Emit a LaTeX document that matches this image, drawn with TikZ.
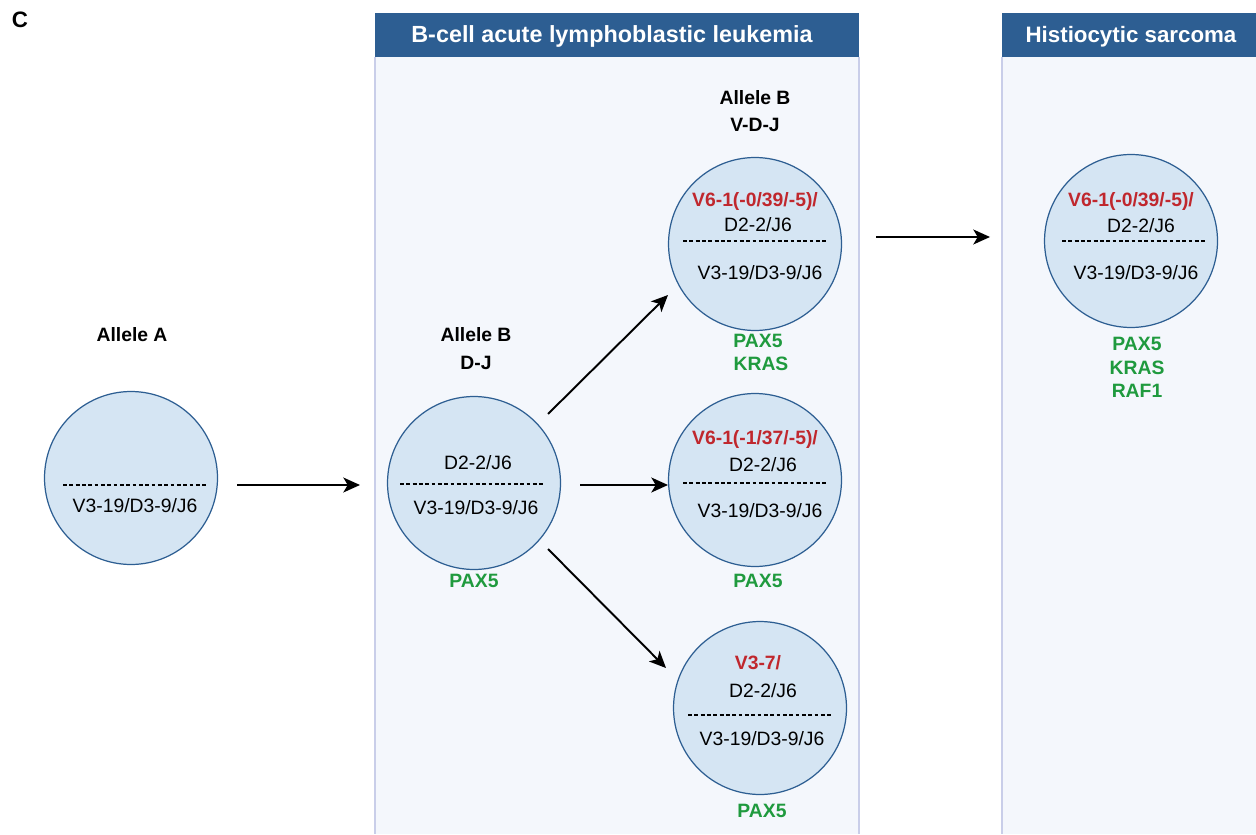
\documentclass[tikz,border=0pt]{standalone}
\usepackage{fontspec}
\setmainfont{Liberation Sans}
\usetikzlibrary{arrows.meta}
\definecolor{hdrblue}{HTML}{2D5E92}
\definecolor{panelbg}{HTML}{F4F7FC}
\definecolor{panelline}{HTML}{C9CEE9}
\definecolor{cellfill}{HTML}{D5E5F3}
\definecolor{vred}{HTML}{C0272D}
\definecolor{ggreen}{HTML}{1F9A3E}
\begin{document}
\begin{tikzpicture}[x=0.02cm,y=-0.02cm,
    every node/.style={font=\fontsize{11}{13}\selectfont,inner sep=0pt},
    txt/.style={anchor=base},
    cell/.style={circle,draw=hdrblue,fill=cellfill,line width=0.7pt,minimum size=3.46cm},
    hdr/.style={anchor=base,text=white,font=\fontsize{13.3}{15}\selectfont\bfseries},
    lbl/.style={anchor=base,font=\fontsize{11}{13}\selectfont\bfseries},
    vgene/.style={anchor=base,text=vred,font=\fontsize{11}{13}\selectfont\bfseries},
    gene/.style={anchor=base,text=ggreen,font=\fontsize{11}{13}\selectfont\bfseries},
    sep/.style={dash pattern=on 2.2pt off 1.4pt,line width=0.6pt},
    arr/.style={-{Stealth[length=9.5pt,width=8.5pt,inset=2.5pt]},line width=1.1pt}]
    \useasboundingbox (0,0) rectangle (1256,834);

    % panels
    \fill[panelbg] (375,57) rectangle (859,834);
    \draw[panelline,line width=1pt] (375,57) -- (375,834) (859,57) -- (859,834);
    \fill[panelbg] (1002,57) rectangle (1256,834);
    \draw[panelline,line width=1pt] (1002,57) -- (1002,834);
    \fill[hdrblue] (375,13) rectangle (859,57);
    \fill[hdrblue] (1002,13) rectangle (1256,57);
    \node[hdr] (h1) at (612,43) {B-cell acute lymphoblastic leukemia};
    \node[hdr,font=\fontsize{12.7}{15}\selectfont\bfseries] (h2) at (1131,43) {Histiocytic sarcoma};
    \node[lbl,font=\fontsize{12.7}{15}\selectfont\bfseries] (lc) at (20,28) {C};

    % cells
    \node[cell] (a) at (131,478) {};
    \node[cell] (dj) at (474,483) {};
    \node[cell] (vdj1) at (755,244) {};
    \node[cell] (vdj2) at (755,480) {};
    \node[cell] (vdj3) at (760,708) {};
    \node[cell] (hs) at (1131,241) {};

    % allele A
    \node[lbl] (la) at (132,341) {Allele A};
    \draw[sep] (63,485) -- (207,485);
    \node[txt] (a1) at (135,512) {V3-19/D3-9/J6};

    % allele B, D-J
    \node[lbl] (lb1) at (476,341) {Allele B};
    \node[lbl] (lb2) at (476,369) {D-J};
    \node[txt] (dj1) at (478,469) {D2-2/J6};
    \draw[sep] (400,484) -- (543,484);
    \node[txt] (dj2) at (476,514) {V3-19/D3-9/J6};
    \node[gene] (dj3) at (474,587) {PAX5};

    % allele B, V-D-J
    \node[lbl] (lv1) at (755,105) {Allele B};
    \node[lbl] (lv2) at (755,132) {V-D-J};

    \node[vgene] (t1) at (755,207) {V6-1(-0/39/-5)/};
    \node[txt] (t2) at (758,232) {D2-2/J6};
    \draw[sep] (683,241) -- (827,241);
    \node[txt] (t3) at (760,279) {V3-19/D3-9/J6};
    \node[gene] (t4) at (758,347) {PAX5};
    \node[gene] (t5) at (761,370) {KRAS};

    \node[vgene] (m1) at (755,444) {V6-1(-1/37/-5)/};
    \node[txt] (m2) at (763,471) {D2-2/J6};
    \draw[sep] (683,483) -- (828,483);
    \node[txt] (m3) at (760,517) {V3-19/D3-9/J6};
    \node[gene] (m4) at (758,587) {PAX5};

    \node[vgene] (b1) at (758,669) {V3-7/};
    \node[txt] (b2) at (763,697) {D2-2/J6};
    \draw[sep] (688,715) -- (831,715);
    \node[txt] (b3) at (762,745) {V3-19/D3-9/J6};
    \node[gene] (b4) at (762,817) {PAX5};

    % histiocytic sarcoma
    \node[vgene] (s1) at (1131,207) {V6-1(-0/39/-5)/};
    \node[txt] (s2) at (1141,233) {D2-2/J6};
    \draw[sep] (1062,241) -- (1206,241);
    \node[txt] (s3) at (1136,279) {V3-19/D3-9/J6};
    \node[gene] (s4) at (1137,350) {PAX5};
    \node[gene] (s5) at (1137,374) {KRAS};
    \node[gene] (s6) at (1137,397) {RAF1};

    % arrows
    \draw[arr] ([shift={(106,7)}]a.center) -- ([shift={(-114,2)}]dj.center);
    \draw[arr] ([shift={(74,-69)}]dj.center) -- ([shift={(-87,51)}]vdj1.center);
    \draw[arr] ([shift={(106,2)}]dj.center) -- ([shift={(-87,5)}]vdj2.center);
    \draw[arr] ([shift={(74,66)}]dj.center) -- ([shift={(-94,-40)}]vdj3.center);
    \draw[arr] ([shift={(121,-7)}]vdj1.center) -- ([shift={(-141,-4)}]hs.center);
\end{tikzpicture}
\end{document}
